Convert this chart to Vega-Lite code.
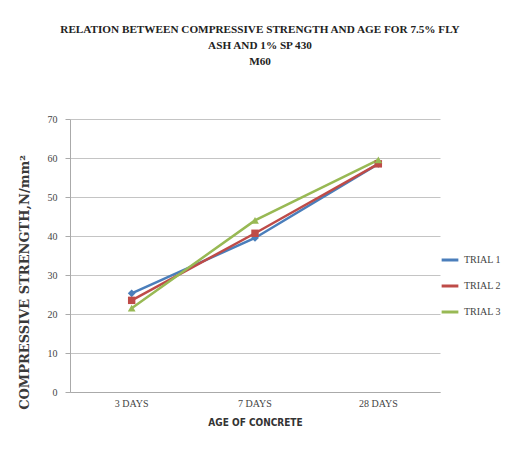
{
  "$schema": "https://vega.github.io/schema/vega-lite/v6.json",
  "autosize": {"type": "none"},
  "padding": {"left": 70, "top": 119, "right": 87, "bottom": 77},
  "width": 370,
  "height": 273,
  "background": "white",
  "title": {
    "text": ["RELATION BETWEEN COMPRESSIVE STRENGTH AND AGE FOR 7.5% FLY", "ASH AND 1% SP 430", "M60"],
    "font": "Liberation Serif",
    "fontSize": 11.2,
    "fontWeight": "bold",
    "color": "#222",
    "lineHeight": 16,
    "anchor": "middle",
    "frame": "group",
    "offset": 47,
    "dx": 5
  },
  "data": {
    "values": [
      {"age": "3 DAYS", "trial": "TRIAL 1", "strength": 25.3},
      {"age": "7 DAYS", "trial": "TRIAL 1", "strength": 39.5},
      {"age": "28 DAYS", "trial": "TRIAL 1", "strength": 58.5},
      {"age": "3 DAYS", "trial": "TRIAL 2", "strength": 23.5},
      {"age": "7 DAYS", "trial": "TRIAL 2", "strength": 40.7},
      {"age": "28 DAYS", "trial": "TRIAL 2", "strength": 58.5},
      {"age": "3 DAYS", "trial": "TRIAL 3", "strength": 21.5},
      {"age": "7 DAYS", "trial": "TRIAL 3", "strength": 44.0},
      {"age": "28 DAYS", "trial": "TRIAL 3", "strength": 59.5}
    ]
  },
  "encoding": {
    "x": {
      "field": "age", "type": "nominal", "sort": ["3 DAYS", "7 DAYS", "28 DAYS"],
      "scale": {"type": "band", "paddingInner": 0, "paddingOuter": 0},
      "axis": {
        "title": "AGE OF CONCRETE", "labelAngle": 0,
        "labelFont": "Liberation Serif", "labelFontSize": 10, "labelColor": "#444", "labelPadding": 6,
        "titleFont": "DejaVu Sans Condensed", "titleFontSize": 10, "titleFontWeight": "bold", "titleColor": "#333", "titlePadding": 9,
        "domainColor": "#aaa", "ticks": false, "grid": false
      }
    },
    "y": {
      "field": "strength", "type": "quantitative",
      "scale": {"domain": [0, 70]},
      "axis": {
        "title": "COMPRESSIVE STRENGTH,N/mm²", "values": [0,10,20,30,40,50,60,70],
        "labelFont": "Liberation Serif", "labelFontSize": 10, "labelColor": "#444", "labelPadding": 8,
        "titleFont": "DejaVu Serif", "titleFontSize": 13, "titleFontWeight": "bold", "titleColor": "#3a3a3a", "titlePadding": 16,
        "titleY": 163,
        "domainColor": "#aaa", "tickColor": "#aaa", "tickSize": 5,
        "gridColor": "#c4c4c4", "gridWidth": 1
      }
    },
    "color": {
      "field": "trial", "type": "nominal",
      "scale": {"domain": ["TRIAL 1", "TRIAL 2", "TRIAL 3"], "range": ["#4A7EBB", "#BE4B48", "#98B954"]},
      "legend": {
        "title": null, "orient": "none", "legendX": 370, "legendY": 131,
        "labelFont": "Liberation Serif", "labelFontSize": 10, "labelColor": "#444",
        "rowPadding": 10, "symbolType": "stroke", "symbolSize": 280, "symbolStrokeWidth": 3
      }
    }
  },
  "layer": [
    {"mark": {"type": "line", "strokeWidth": 2.5}},
    {"transform": [{"filter": "datum.trial == 'TRIAL 1'"}], "mark": {"type": "point", "shape": "diamond", "filled": true, "size": 60, "opacity": 1}},
    {"transform": [{"filter": "datum.trial == 'TRIAL 2'"}], "mark": {"type": "point", "shape": "square", "filled": true, "size": 55, "opacity": 1}},
    {"transform": [{"filter": "datum.trial == 'TRIAL 3'"}], "mark": {"type": "point", "shape": "triangle-up", "filled": true, "size": 60, "opacity": 1}}
  ],
  "config": {"view": {"stroke": null}}
}
